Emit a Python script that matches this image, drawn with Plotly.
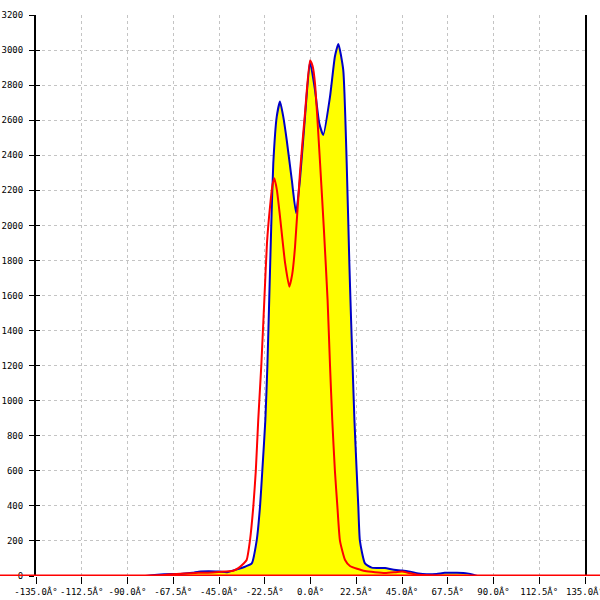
import plotly.graph_objects as go

# Blue series (angle in degrees, value)
blue_x = [-81, -78, -72, -64, -58, -55, -50, -45, -41, -37, -32.2, -28.9, -26.5, -24.8, -23.7,
          -22.2, -21.2, -20.3, -19.3, -18.3, -16.6, -15.0, -13.4, -11.7, -9.2, -7.1, -5.2, -2.7,
          -0.25, 2.2, 4.3, 6.3, 9.6, 12.0, 13.7, 16.1, 17.8, 19.1, 19.8, 20.7, 21.6, 22.7, 23.5,
          24.3, 26.8, 30.1, 36.6, 41, 45, 49, 53, 57, 62, 66, 72, 77, 80, 82]
blue_y = [0, 5, 10, 12, 18, 25, 27, 25, 22, 35, 53, 72, 200, 400, 600,
          890, 1200, 1575, 2000, 2354, 2620, 2706, 2620, 2487, 2259, 2071, 2260, 2620,
          2934, 2773, 2583, 2516, 2734, 2963, 3035, 2887, 2356, 1786, 1517, 1200, 890, 600, 400,
          200, 72, 48, 45, 35, 32, 25, 15, 10, 12, 18, 18, 15, 8, 0]

# Red series
red_x = [-82, -75, -70, -62, -55, -48, -42, -38, -35.5, -33, -31.4, -29.8, -28.1, -26.9, -25.7,
         -24.2, -22.7, -21.4, -19.9, -18.7, -17.8, -16.5, -15, -12.5, -10.4, -9, -7.6, -5.2,
         -2.7, -0.25, 1, 2.2, 4.7, 6.6, 8.4, 9.6, 10.7, 12.0, 13.2, 14.5, 17.0, 19.4, 26.8,
         36.6, 42, 45, 48, 52, 57, 65, 80]
red_y = [0, 3, 8, 14, 18, 20, 25, 30, 45, 70, 91, 200, 400, 600, 890,
         1200, 1575, 1900, 2107, 2230, 2269, 2200, 2050, 1786, 1650, 1720, 1879, 2299,
         2641, 2940, 2910, 2812, 2356, 1974, 1575, 1200, 890, 600, 400, 200, 91, 57, 28,
         17, 22, 25, 18, 8, 4, 2, 0]

x_tickvals = [-135, -112.5, -90, -67.5, -45, -22.5, 0, 22.5, 45, 67.5, 90, 112.5, 135]
x_ticktext = ["-135.0Â°", "-112.5Â°", "-90.0Â°", "-67.5Â°", "-45.0Â°", "-22.5Â°", "0.0Â°",
              "22.5Â°", "45.0Â°", "67.5Â°", "90.0Â°", "112.5Â°", "135.0Â°"]
y_tickvals = list(range(0, 3201, 200))

fig = go.Figure()
fig.add_trace(go.Scatter(x=blue_x, y=blue_y, mode="lines", fill="tozeroy",
                         fillcolor="#ffff00",
                         line=dict(color="#0000c8", width=2, shape="spline", smoothing=0.5),
                         showlegend=False))
fig.add_trace(go.Scatter(x=red_x, y=red_y, mode="lines",
                         line=dict(color="#ff0000", width=2, shape="spline", smoothing=0.5),
                         showlegend=False))
fig.add_trace(go.Scatter(x=[None], y=[None], yaxis="y2", showlegend=False))

font = dict(family="DejaVu Sans Mono", size=9, color="#000000")

fig.update_layout(
    width=600, height=600,
    margin=dict(l=36, r=15, t=15, b=24, autoexpand=False),
    paper_bgcolor="white", plot_bgcolor="white",
    font=font,
    xaxis=dict(range=[-135, 135], tickvals=x_tickvals, ticktext=x_ticktext,
               showgrid=True, gridcolor="#c4c4c4", griddash="3px,3px", gridwidth=1,
               zeroline=False, showline=False,
               ticks="outside", ticklen=7, tickwidth=1, tickcolor="black",
               tickangle=0, automargin=False, ticklabeloverflow="allow",
               tickfont=font, fixedrange=True),
    yaxis=dict(range=[0, 3200], tickvals=y_tickvals,
               showgrid=True, gridcolor="#c4c4c4", griddash="3px,3px", gridwidth=1,
               zeroline=False, showline=True, linecolor="black", linewidth=2,
               mirror=True, automargin=False, ticklabelstandoff=4,
               ticklabeloverflow="allow",
               ticks="outside", ticklen=5, tickwidth=1, tickcolor="black",
               tickfont=font, fixedrange=True),
    yaxis2=dict(range=[0, 3200], tickvals=y_tickvals, overlaying="y", side="left",
                showgrid=False, zeroline=False, showticklabels=False, automargin=False,
                ticks="inside", ticklen=4, tickwidth=1, tickcolor="black", fixedrange=True),
    shapes=[dict(type="line", xref="paper", yref="y", x0=-0.07, x1=1.03, y0=0, y1=0,
                 line=dict(color="#ff0000", width=3), layer="above")],
)

fig.write_html("out.html", config={"displayModeBar": False},
               post_script="document.body.style.margin='0px';")
